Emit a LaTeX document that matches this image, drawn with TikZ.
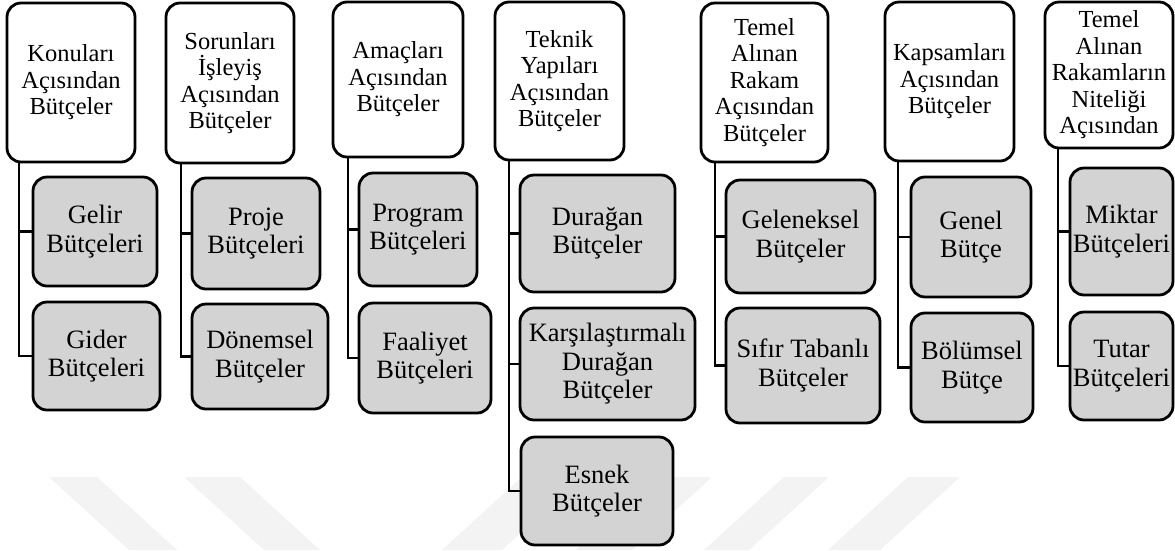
\documentclass[tikz,border=0pt]{standalone}
\usepackage{fontspec}
\setmainfont{Liberation Serif}
\definecolor{kidfill}{RGB}{211,211,211}
\definecolor{markfill}{RGB}{243,243,243}
\tikzset{
  boxbase/.style={draw=black, line width=2.8pt, rounded corners=14pt,
    align=center, inner sep=0pt},
  hdr/.style={boxbase, fill=white, font=\fontsize{24.5}{26.5}\selectfont},
  kid/.style={boxbase, fill=kidfill, font=\fontsize{26.5}{28.5}\selectfont},
  conn/.style={draw=black, line width=2.8pt},
}
% box from its corners: #1 = name, #2 = style, (x1,y1) (x2,y2), text
\newcommand{\bx}[7]{%
  \node[#2, minimum width={(#5-#3)*1pt}, minimum height={(#6-#4)*1pt}]
    (#1) at ({(#3+#5)/2},{(#4+#6)/2}) {#7};}
\begin{document}
\begin{tikzpicture}[x=1pt, y=-1pt]
\useasboundingbox (0,0) rectangle (1175,550);

% faint background stripes
\fill[markfill] (49,477) -- (97,477) -- (177,550) -- (129,550) -- cycle;
\fill[markfill] (184,477) -- (240,477) -- (320,550) -- (264,550) -- cycle;
\fill[markfill] (522,477) -- (582,477) -- (502,550) -- (442,550) -- cycle;
\fill[markfill] (656,477) -- (712,477) -- (632,550) -- (576,550) -- cycle;
\fill[markfill] (784,477) -- (829,477) -- (749,550) -- (704,550) -- cycle;
\fill[markfill] (908,477) -- (960,477) -- (880,550) -- (828,550) -- cycle;

% column 1
\bx{h1}{hdr}{7}{3}{135}{162}{Konuları\\Açısından\\Bütçeler}
\bx{c1a}{kid}{33}{177}{157}{286}{Gelir\\Bütçeleri}
\bx{c1b}{kid}{33}{302}{160}{410}{Gider\\Bütçeleri}
% column 2
\bx{h2}{hdr}{166}{3}{294}{163}{Sorunları\\İşleyiş\\Açısından\\Bütçeler}
\bx{c2a}{kid}{192}{178}{320}{289}{Proje\\Bütçeleri}
\bx{c2b}{kid}{192}{304}{328}{409}{Dönemsel\\Bütçeler}
% column 3
\bx{h3}{hdr}{333}{2}{463}{157}{Amaçları\\Açısından\\Bütçeler}
\bx{c3a}{kid}{359}{173}{477}{286}{Program\\Bütçeleri}
\bx{c3b}{kid}{359}{303}{491}{413}{Faaliyet\\Bütçeleri}
% column 4
\bx{h4}{hdr}{495}{2}{624}{160}{Teknik\\Yapıları\\Açısından\\Bütçeler}
\bx{c4a}{kid}{520}{175}{675}{292}{Durağan\\Bütçeler}
\bx{c4b}{kid}{520}{308}{695}{420}{Karşılaştırmalı\\Durağan\\Bütçeler}
\bx{c4c}{kid}{521}{437}{673}{545}{Esnek\\Bütçeler}
% column 5
\bx{h5}{hdr}{701}{3}{828}{162}{Temel\\Alınan\\Rakam\\Açısından\\Bütçeler}
\bx{c5a}{kid}{726}{180}{875}{293}{Geleneksel\\Bütçeler}
\bx{c5b}{kid}{726}{308}{880}{423}{Sıfır Tabanlı\\Bütçeler}
% column 6
\bx{h6}{hdr}{885}{2}{1014}{161}{Kapsamları\\Açısından\\Bütçeler}
\bx{c6a}{kid}{911}{177}{1031}{297}{Genel\\Bütçe}
\bx{c6b}{kid}{911}{313}{1033}{422}{Bölümsel\\Bütçe}
% column 7
\bx{h7}{hdr}{1045}{2}{1173}{148}{Temel\\Alınan\\Rakamların\\Niteliği\\Açısından}
\bx{c7a}{kid}{1070}{168}{1173}{295}{Miktar\\Bütçeleri}
\bx{c7b}{kid}{1070}{312}{1173}{420}{Tutar\\Bütçeleri}

% trunk coordinates
\coordinate (t1) at (19,0);
\coordinate (t2) at (181,0);
\coordinate (t3) at (348,0);
\coordinate (t4) at (509,0);
\coordinate (t5) at (715,0);
\coordinate (t6) at (898,0);
\coordinate (t7) at (1058,0);

% connectors
\draw[conn] (h1.south -| t1) |- (c1b.west);
\draw[conn] (c1a.west -| t1) -- (c1a.west);
\draw[conn] (h2.south -| t2) |- (c2b.west);
\draw[conn] (c2a.west -| t2) -- (c2a.west);
\draw[conn] (h3.south -| t3) |- (c3b.west);
\draw[conn] (c3a.west -| t3) -- (c3a.west);
\draw[conn] (h4.south -| t4) |- (c4c.west);
\draw[conn] (c4a.west -| t4) -- (c4a.west);
\draw[conn] (c4b.west -| t4) -- (c4b.west);
\draw[conn] (h5.south -| t5) |- (c5b.west);
\draw[conn] (c5a.west -| t5) -- (c5a.west);
\draw[conn] (h6.south -| t6) |- (c6b.west);
\draw[conn] (c6a.west -| t6) -- (c6a.west);
\draw[conn] (h7.south -| t7) |- (c7b.west);
\draw[conn] (c7a.west -| t7) -- (c7a.west);
\end{tikzpicture}
\end{document}
